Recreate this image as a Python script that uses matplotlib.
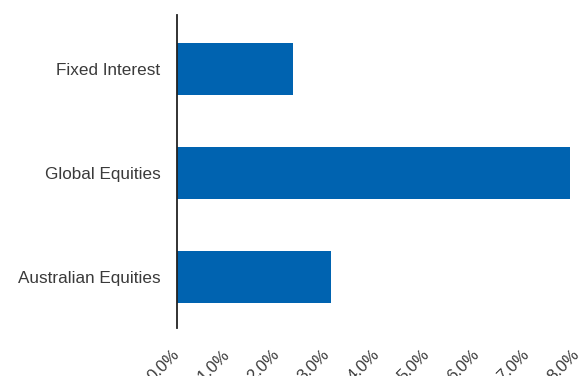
import matplotlib
matplotlib.use("Agg")
import matplotlib.pyplot as plt
from matplotlib.ticker import FuncFormatter

categories = ["Fixed Interest", "Global Equities", "Australian Equities"]
values = [2.32, 7.86, 3.08]
xticks = [0, 1, 2, 3, 4, 5, 6, 7, 8]

plt.rcParams['font.family'] = ['Liberation Sans', 'DejaVu Sans']

fig = plt.figure(figsize=(5.85, 3.76), dpi=100)
ax = fig.add_axes([177/585, 1-328/376, 400/585, 313/376])

ypos = list(range(len(categories)))
ax.barh(ypos, values, height=0.5, color="#0063B0")
ax.set_yticks(ypos)
ax.set_yticklabels(categories)
ax.set_ylim(2.49, -0.52)
ax.set_xlim(0, 8)
ax.set_xticks(xticks)
ax.xaxis.set_major_formatter(FuncFormatter(lambda v, p: f"{v:.1f}%"))
for s in ["top", "right", "bottom"]:
    ax.spines[s].set_visible(False)
ax.spines["left"].set_color("#222222")
ax.spines["left"].set_linewidth(1.3)
ax.tick_params(axis="both", length=0, colors="#3a3a3a")
ax.tick_params(axis="y", pad=12, labelsize=12.3)
ax.tick_params(axis="x", pad=17, labelsize=12)
for lab in ax.get_xticklabels():
    lab.set_rotation(45)
    lab.set_ha("right")
    lab.set_va("center")
    lab.set_rotation_mode("anchor")

fig.savefig("out.png", dpi=100)
